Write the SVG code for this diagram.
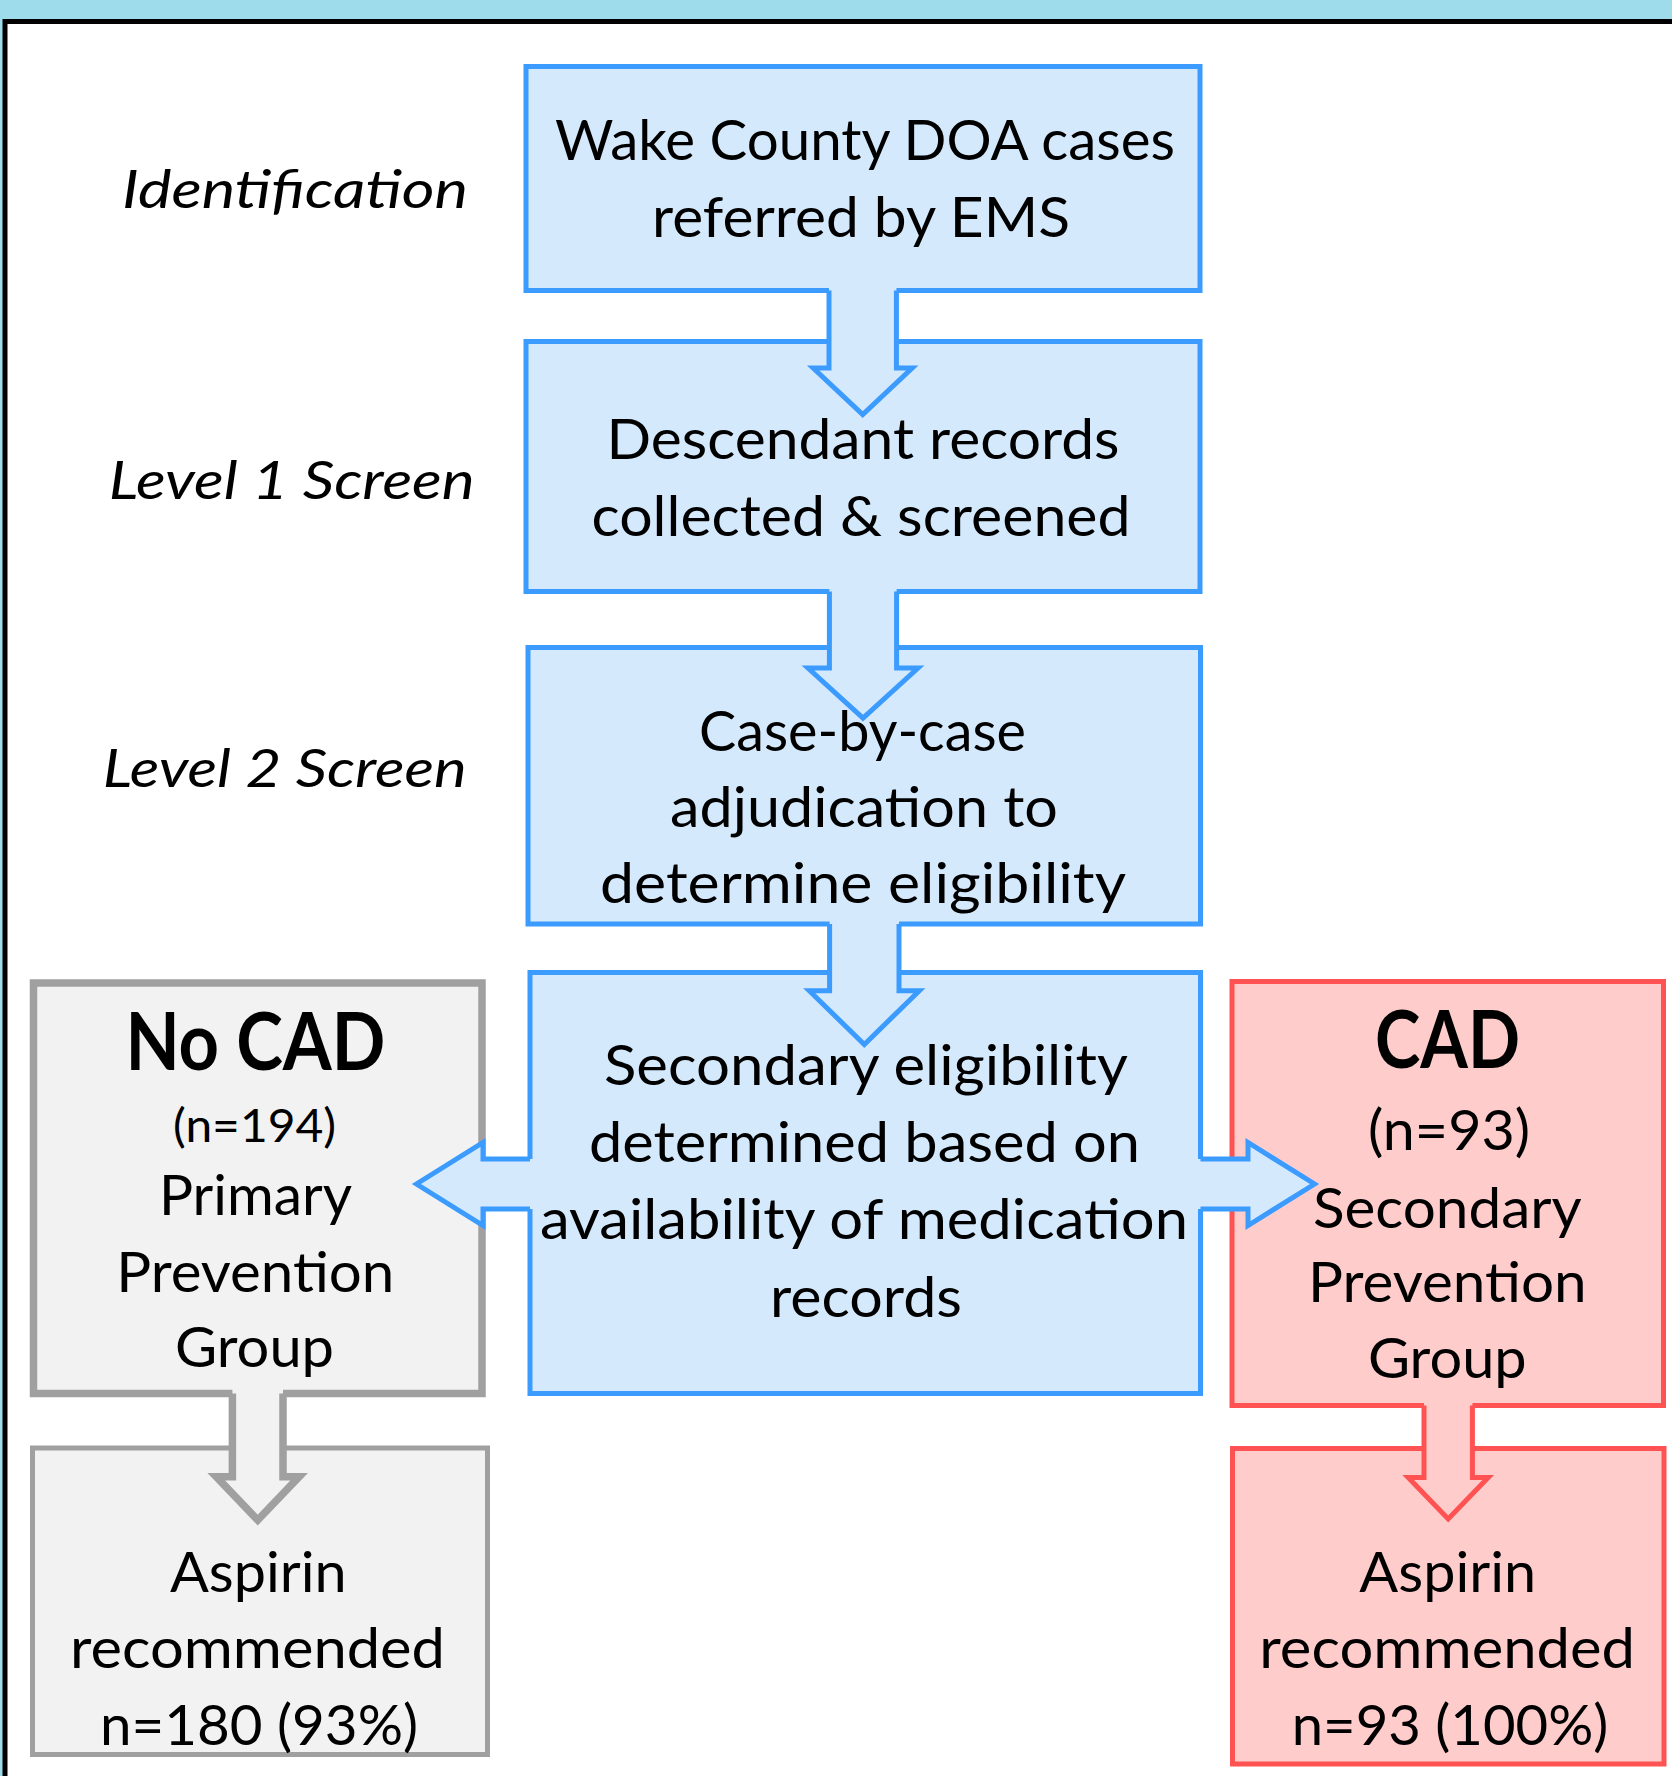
<svg xmlns="http://www.w3.org/2000/svg" width="1672" height="1776" viewBox="0 0 1672 1776">
<style>
.t{font-family:Lato,"Open Sans","Liberation Sans",sans-serif;font-size:56px;fill:#000;text-anchor:middle}
.lab{font-style:italic;font-size:53px}
.big{font-weight:bold;font-size:80px}
.sm{font-size:46px}
.bbox{fill:#D5E9FC;stroke:#3B9BFF;stroke-width:5}
.gbox{fill:#F2F2F2;stroke:#A0A0A0}
.rbox{fill:#FFCCCC;stroke:#FF5252;stroke-width:5}
.bf{fill:#D5E9FC;stroke:none}
.bs{fill:none;stroke:#3B9BFF;stroke-width:5;stroke-linejoin:miter;stroke-miterlimit:10}
.gf{fill:#F2F2F2;stroke:none}
.gs{fill:none;stroke:#A0A0A0;stroke-width:7.5;stroke-linejoin:miter;stroke-miterlimit:10}
.rf{fill:#FFCCCC;stroke:none}
.rs{fill:none;stroke:#FF5252;stroke-width:5;stroke-linejoin:miter;stroke-miterlimit:10}
</style>
<rect x="0" y="0" width="1672" height="1776" fill="#9FDCEB"/>
<path d="M5,1780 V21.5 H1680 V1780 Z" fill="#FFFFFF" stroke="#000000" stroke-width="5"/>

<g id="stage-labels">
<text class="t lab" x="295" y="208" textLength="346" lengthAdjust="spacingAndGlyphs">Identification</text>
<text class="t lab" x="291.7" y="498.5" textLength="366" lengthAdjust="spacingAndGlyphs">Level 1 Screen</text>
<text class="t lab" x="284.7" y="786.7" textLength="364" lengthAdjust="spacingAndGlyphs">Level 2 Screen</text>
</g>

<g id="node-identification">
<rect class="bbox" x="526" y="66.5" width="674" height="224"/>
<text class="t" x="865" y="160" textLength="620" lengthAdjust="spacingAndGlyphs">Wake County DOA cases</text>
<text class="t" x="861" y="237" textLength="418" lengthAdjust="spacingAndGlyphs">referred by EMS</text>
</g>

<g id="node-level1">
<rect class="bbox" x="526" y="341.5" width="674" height="250"/>
<text class="t" x="863" y="459" textLength="513" lengthAdjust="spacingAndGlyphs">Descendant records</text>
<text class="t" x="861" y="536" textLength="539" lengthAdjust="spacingAndGlyphs">collected &amp; screened</text>
</g>

<g id="node-level2">
<rect class="bbox" x="528" y="647.5" width="672.5" height="276.5"/>
<text class="t" x="862.5" y="751" textLength="327" lengthAdjust="spacingAndGlyphs">Case-by-case</text>
<text class="t" x="864" y="827" textLength="388" lengthAdjust="spacingAndGlyphs">adjudication to</text>
<text class="t" x="863" y="903" textLength="526" lengthAdjust="spacingAndGlyphs">determine eligibility</text>
</g>

<g id="node-secondary">
<rect class="bbox" x="530" y="972.5" width="670.5" height="421"/>
<text class="t" x="866" y="1085" textLength="524" lengthAdjust="spacingAndGlyphs">Secondary eligibility</text>
<text class="t" x="864.5" y="1161.5" textLength="551" lengthAdjust="spacingAndGlyphs">determined based on</text>
<text class="t" x="864" y="1239" textLength="648" lengthAdjust="spacingAndGlyphs">availability of medication</text>
<text class="t" x="866" y="1316.5" textLength="192" lengthAdjust="spacingAndGlyphs">records</text>
</g>

<g id="node-no-cad">
<rect class="gbox" x="33.5" y="983" width="448.5" height="410.5" stroke-width="7.5"/>
<text class="t big" x="255.4" y="1070" textLength="260" lengthAdjust="spacingAndGlyphs">No CAD</text>
<text class="t sm" x="254.5" y="1141.7" textLength="163" lengthAdjust="spacingAndGlyphs">(n=194)</text>
<text class="t" x="255.5" y="1215" textLength="193" lengthAdjust="spacingAndGlyphs">Primary</text>
<text class="t" x="255.3" y="1291.7" textLength="278" lengthAdjust="spacingAndGlyphs">Prevention</text>
<text class="t" x="254.5" y="1366.7" textLength="159" lengthAdjust="spacingAndGlyphs">Group</text>
</g>

<g id="node-aspirin-primary">
<rect class="gbox" x="32.5" y="1448" width="455" height="306.5" stroke-width="5"/>
<text class="t" x="258.3" y="1591.7" textLength="176.7" lengthAdjust="spacingAndGlyphs">Aspirin</text>
<text class="t" x="257.5" y="1668.3" textLength="375" lengthAdjust="spacingAndGlyphs">recommended</text>
<text class="t" x="259" y="1745" textLength="318" lengthAdjust="spacingAndGlyphs">n=180 (93%)</text>
</g>

<g id="node-cad">
<rect class="rbox" x="1232" y="981.5" width="431.5" height="424"/>
<text class="t big" x="1447.5" y="1068" textLength="145" lengthAdjust="spacingAndGlyphs">CAD</text>
<text class="t" x="1449" y="1150" textLength="162" lengthAdjust="spacingAndGlyphs">(n=93)</text>
<text class="t" x="1447.3" y="1228.3" textLength="268.7" lengthAdjust="spacingAndGlyphs">Secondary</text>
<text class="t" x="1447.3" y="1301.7" textLength="278.7" lengthAdjust="spacingAndGlyphs">Prevention</text>
<text class="t" x="1447.3" y="1378" textLength="158.7" lengthAdjust="spacingAndGlyphs">Group</text>
</g>

<g id="node-aspirin-secondary">
<rect class="rbox" x="1232.5" y="1448.5" width="431.5" height="315.5"/>
<text class="t" x="1447.7" y="1591.7" textLength="176.7" lengthAdjust="spacingAndGlyphs">Aspirin</text>
<text class="t" x="1447.2" y="1668.3" textLength="375.7" lengthAdjust="spacingAndGlyphs">recommended</text>
<text class="t" x="1450" y="1745" textLength="316.6" lengthAdjust="spacingAndGlyphs">n=93 (100%)</text>
</g>

<g id="connectors">
<!-- Identification -> Level 1 -->
<polygon class="bf" points="829,287 829,368 813.2,368 862.7,414.5 912.2,368 896.4,368 896.4,287"/>
<polyline class="bs" points="829,290.5 829,368 813.2,368 862.7,414.5 912.2,368 896.4,368 896.4,290.5"/>
<!-- Level 1 -> Level 2 -->
<polygon class="bf" points="829.4,588 829.4,668 808,668 863,718 918,668 896.6,668 896.6,588"/>
<polyline class="bs" points="829.4,591.5 829.4,668 808,668 863,718 918,668 896.6,668 896.6,591.5"/>
<!-- Level 2 -> Secondary -->
<polygon class="bf" points="829.6,920.5 829.6,990.7 809.3,990.7 864.3,1044.5 919.3,990.7 899,990.7 899,920.5"/>
<polyline class="bs" points="829.6,924 829.6,990.7 809.3,990.7 864.3,1044.5 919.3,990.7 899,990.7 899,924"/>
<!-- Secondary -> No CAD -->
<polygon class="bf" points="534,1159 483,1159 483,1142.5 416.5,1184 483,1225.5 483,1209 534,1209"/>
<polyline class="bs" points="530,1159 483,1159 483,1142.5 416.5,1184 483,1225.5 483,1209 530,1209"/>
<!-- Secondary -> CAD -->
<polygon class="bf" points="1197,1159 1248,1159 1248,1142.5 1314.5,1184 1248,1225.5 1248,1209 1197,1209"/>
<polyline class="bs" points="1200.5,1159 1248,1159 1248,1142.5 1314.5,1184 1248,1225.5 1248,1209 1200.5,1209"/>
<!-- No CAD -> Aspirin -->
<polygon class="gf" points="232.4,1389 232.4,1476.7 216.2,1476.7 257.7,1520 299.2,1476.7 283,1476.7 283,1389"/>
<polyline class="gs" points="232.4,1393.5 232.4,1476.7 216.2,1476.7 257.7,1520 299.2,1476.7 283,1476.7 283,1393.5"/>
<!-- CAD -> Aspirin -->
<polygon class="rf" points="1424,1402 1424,1477.5 1408.2,1477.5 1448.2,1519 1488.2,1477.5 1472.4,1477.5 1472.4,1402"/>
<polyline class="rs" points="1424,1405.5 1424,1477.5 1408.2,1477.5 1448.2,1519 1488.2,1477.5 1472.4,1477.5 1472.4,1405.5"/>
</g>
</svg>
